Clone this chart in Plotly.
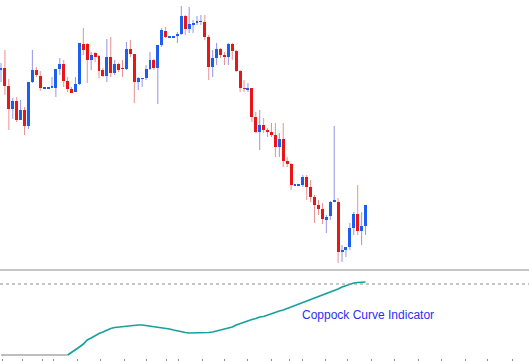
import plotly.graph_objects as go

# ---- price candles (arbitrary price units) ----
opens = [230,232,214,191,199,180,190,174,218,230,224,212,212,212,212,231,236,219,211,208,
         216,256,256,240,247,244,230,224,243,227,236,232,231,251,246,218,221,222,231,240,
         232,255,269,263,263,264,266,284,271,275,277,278,278,263,233,242,251,245,243,256,
         249,229,212,210,212,183,168,175,170,168,165,153,161,139,136,115,115,115,123,113,
         103,95,91,80,84,98,98,48,50,53,72,86,69,74]
highs = [237,250,221,202,203,200,193,218,250,233,229,212,212,223,231,242,240,223,213,223,
         257,272,257,248,248,245,232,261,263,240,237,240,258,260,246,223,222,235,248,241,
         255,272,273,263,263,268,294,285,293,280,284,285,285,265,250,257,252,248,257,257,
         250,230,220,217,212,188,190,182,172,177,177,167,177,143,137,115,115,125,125,120,
         105,100,97,85,99,174,102,55,53,77,88,115,88,95]
lows = [218,205,170,181,178,180,165,171,217,223,209,212,212,212,203,225,213,208,207,208,
        215,245,217,230,238,222,223,218,223,225,228,223,230,243,197,210,213,220,230,230,
        196,253,262,263,263,257,265,265,267,267,275,275,260,220,223,235,242,235,235,240,
        228,208,208,208,178,167,150,167,163,163,143,143,133,133,110,115,115,113,100,98,
        77,85,76,67,80,98,37,38,43,50,65,65,55,65]
closes = [232,214,191,199,180,190,174,218,230,225,212,212,212,214,231,236,219,211,207,216,
          257,250,240,245,243,229,224,243,227,236,230,231,251,246,218,222,222,231,240,232,
          255,270,263,263,263,266,284,271,276,277,279,279,263,233,242,251,245,243,256,249,
          229,212,211,212,183,168,175,170,168,165,153,161,139,136,115,115,115,123,113,103,
          95,91,81,83,98,100,48,50,53,72,86,69,74,95]

# ---- Coppock curve indicator ----
coppock_start = 17
coppock = [-71,-68.5,-66,-63,-60,-56,-54,-51.5,-49.5,-48,-46,-44.5,-43.5,-43,-42.5,-42,-41.5,
           -41,-41,-41,-41.5,-42,-42.5,-43,-43.5,-44,-45,-46,-47,-48,-48.5,-49,-49,-49,-49,
           -49,-48.5,-48,-47,-46,-45,-44,-43,-41,-39.5,-38,-37,-35.5,-34.5,-33,-32.5,-31,-30,
           -28.5,-27,-26,-24.5,-23,-21.5,-20,-19,-17.5,-16,-14.5,-13,-11,-9.5,-8,-6.5,-5,-3,
           -1.5,-0.5,1,1.5,2,2]
baseline_value = -71
level_value = 0

# bottom axis tick marks (bar index positions)
tick_positions = [0.5,5.6,10.5,13.3,19.4,25.5,31.4,37.2,42.3,45.2,51.3,57.1,63.0,69.1,73.7,
                  76.8,82.7,88.5,94.6,100.5,106.4,112.5,118.4,124.2,130.4]

label_text = "Coppock Curve Indicator"

# ---------------------------------------------------------------
n = len(opens)
idx = list(range(n))

UP_BODY = "#1c5ff0"
DN_BODY = "#ec1515"
UP_WICK = "rgba(90,90,225,0.65)"
DN_WICK = "rgba(220,70,70,0.6)"

fig = go.Figure()

# bodies as bars
for up in (True, False):
    xs, hs, bs = [], [], []
    for i in idx:
        o, c = opens[i], closes[i]
        is_up = c >= o
        if is_up != up:
            continue
        xs.append(i)
        if c == o:
            hs.append(1.0)
            bs.append(o - 0.5)
        else:
            hs.append(c - o)
            bs.append(o)
    fig.add_trace(go.Bar(x=xs, y=hs, base=bs, width=0.75,
                         marker=dict(color=UP_BODY if up else DN_BODY, line=dict(width=0)),
                         xaxis="x", yaxis="y", showlegend=False, hoverinfo="skip"))

# wicks
for up in (True, False):
    wx, wy = [], []
    for i in idx:
        o, c = opens[i], closes[i]
        if (c >= o) != up:
            continue
        top, bot = max(o, c), min(o, c)
        if highs[i] > top:
            wx += [i, i, None]
            wy += [highs[i], top, None]
        if lows[i] < bot:
            wx += [i, i, None]
            wy += [bot, lows[i], None]
    fig.add_trace(go.Scatter(x=wx, y=wy, mode="lines",
                             line=dict(color=UP_WICK if up else DN_WICK, width=1),
                             xaxis="x", yaxis="y", showlegend=False, hoverinfo="skip"))

# indicator baseline (before the curve is defined)
fig.add_trace(go.Scatter(x=list(range(0, coppock_start + 1)),
                         y=[baseline_value] * (coppock_start + 1),
                         mode="lines", line=dict(color="#a8a8a8", width=1.6),
                         xaxis="x2", yaxis="y2", showlegend=False, hoverinfo="skip"))
# Coppock curve
fig.add_trace(go.Scatter(x=list(range(coppock_start, coppock_start + len(coppock))),
                         y=coppock, mode="lines",
                         line=dict(color="#16a19e", width=1.7),
                         xaxis="x2", yaxis="y2", showlegend=False, hoverinfo="skip"))

W, H = 529, 361
mb = 3
plot_h = H - mb
def py(px):
    return (plot_h - px) / plot_h

xr = [-0.26, 134.7]
fig.update_layout(
    width=W, height=H,
    margin=dict(l=0, r=0, t=0, b=mb),
    paper_bgcolor="white", plot_bgcolor="white",
    barmode="overlay", bargap=0,
    xaxis=dict(domain=[0, 1], range=xr, visible=False, anchor="y"),
    yaxis=dict(domain=[py(268), 1], range=[32, 300], visible=False),
    xaxis2=dict(domain=[0, 1], range=xr, anchor="y2", showgrid=False, zeroline=False,
                showline=False, ticks="outside", ticklen=3, tickwidth=1,
                tickcolor="#8a8a8a", tickvals=tick_positions, showticklabels=False),
    yaxis2=dict(domain=[0, py(272)], range=[-74, 12], visible=False),
    shapes=[
        dict(type="line", xref="paper", yref="paper", x0=0, x1=1,
             y0=py(270), y1=py(270), line=dict(color="#c6c6c6", width=2)),
        dict(type="line", xref="x2", yref="y2", x0=xr[0], x1=xr[1],
             y0=level_value, y1=level_value, line=dict(color="#8c8c8c", width=1, dash="dot")),
    ],
    annotations=[
        dict(text=label_text, xref="x2", yref="y2", x=93.6, y=-31, showarrow=False,
             font=dict(family="Liberation Sans, Arial, sans-serif", size=12, color="#2e2ef5"),
             xanchor="center", yanchor="middle"),
    ],
)

fig.write_html(
    "out.html",
    config={"displayModeBar": False},
    post_script="document.body.style.margin='0';document.body.style.padding='0';"
                "document.body.style.overflow='hidden';"
                "document.documentElement.style.overflow='hidden';",
)
